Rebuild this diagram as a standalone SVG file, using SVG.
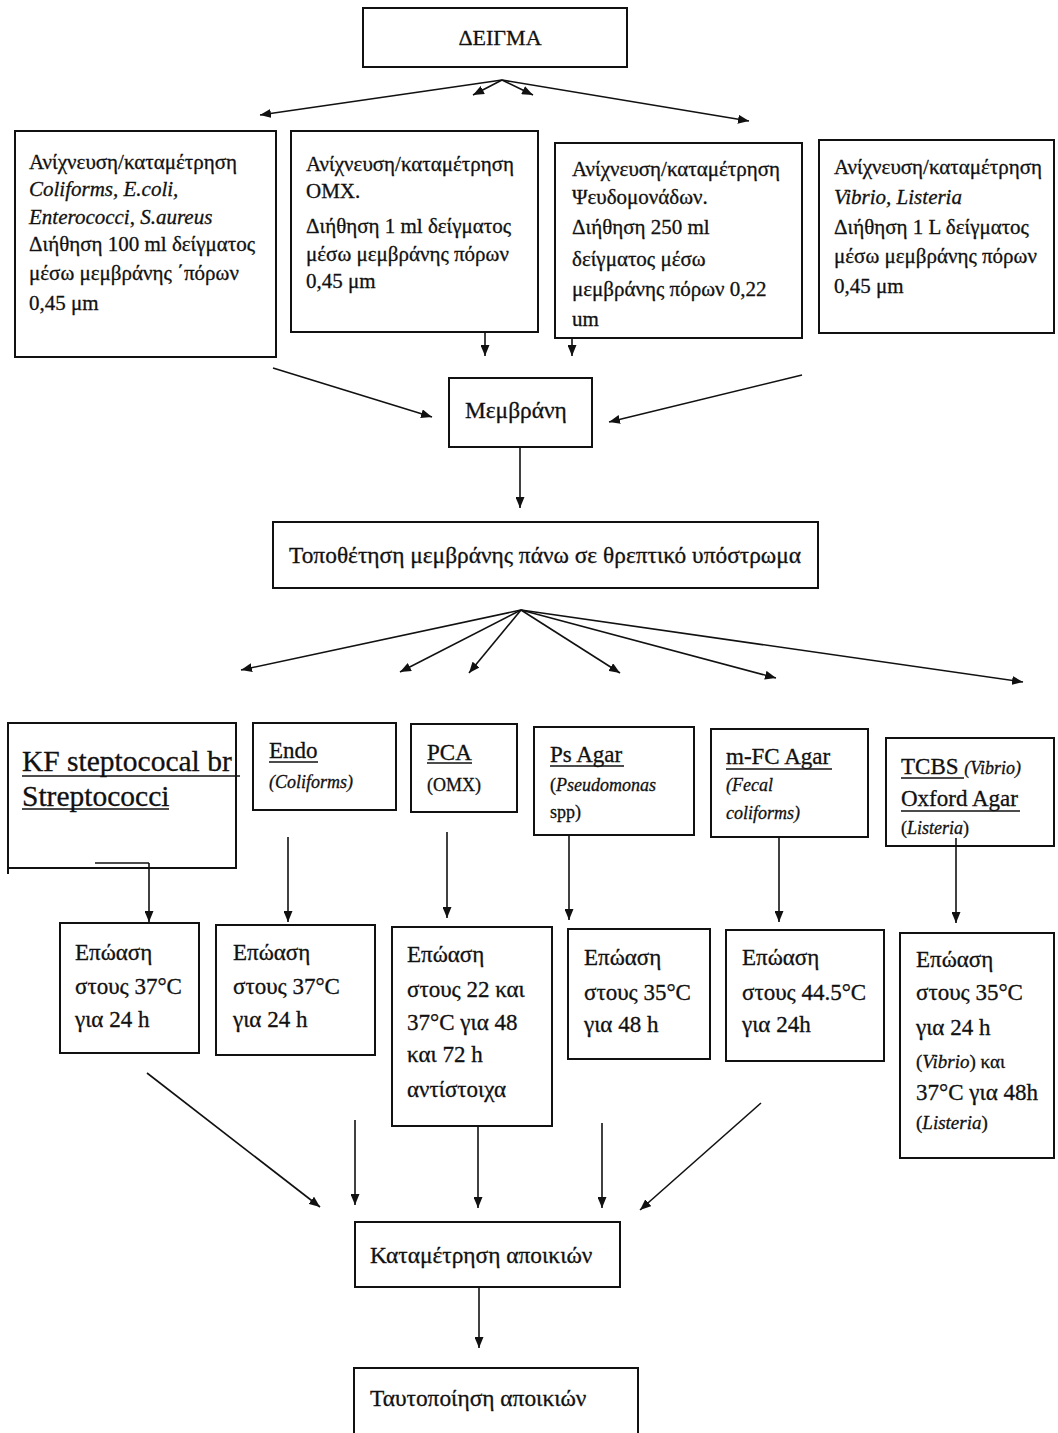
<svg xmlns="http://www.w3.org/2000/svg" width="1058" height="1433" viewBox="0 0 1058 1433">
<defs>
<marker id="ah" markerUnits="userSpaceOnUse" markerWidth="11" markerHeight="9" refX="11" refY="4.5" orient="auto">
<path d="M0,0 L11,4.5 L0,9 z" fill="#111"/>
</marker>
<style>
.box{fill:none;stroke:#111;stroke-width:2}
.t{font-family:"Liberation Serif","Times New Roman",serif;fill:#111;stroke:#111;stroke-width:0.3}
.s21{font-size:21px}
.s22{font-size:22px}
.s23{font-size:23px}
.sb{font-size:23.4px}
.s18{font-size:18px}
.it{font-style:italic}
.ul{stroke:#111;stroke-width:1.5}
.c line{stroke:#111;stroke-width:1.6;marker-end:url(#ah)}
</style>
</defs>
<rect width="1058" height="1433" fill="#fff"/>

<g id="deigma">
<rect class="box" x="363" y="8" width="264" height="59"/>
<text class="t s22" x="500" y="45" text-anchor="middle">ΔΕΙΓΜΑ</text>
</g>

<g id="box1">
<rect class="box" x="15" y="131" width="261" height="226"/>
<text class="t s21" x="29" y="169">Ανίχνευση/καταμέτρηση</text>
<text class="t s21 it" x="29" y="196">Coliforms, E.coli,</text>
<text class="t s21 it" x="29" y="224">Enterococci<tspan font-style="normal">, </tspan>S.aureus</text>
<text class="t s21" x="29" y="251">Διήθηση 100 ml δείγματος</text>
<text class="t s21" x="29" y="280">μέσω μεμβράνης ΄πόρων</text>
<text class="t s21" x="29" y="310">0,45 μm</text>
</g>

<g id="box2">
<rect class="box" x="291" y="131" width="247" height="201"/>
<text class="t s21" x="306" y="171">Ανίχνευση/καταμέτρηση</text>
<text class="t s21" x="306" y="198">ΟΜΧ.</text>
<text class="t s21" x="306" y="233">Διήθηση 1 ml δείγματος</text>
<text class="t s21" x="306" y="261">μέσω μεμβράνης πόρων</text>
<text class="t s21" x="306" y="288">0,45 μm</text>
</g>

<g id="box3">
<rect class="box" x="555" y="143" width="247" height="195"/>
<text class="t s21" x="572" y="176">Ανίχνευση/καταμέτρηση</text>
<text class="t s21" x="572" y="204">Ψευδομονάδων.</text>
<text class="t s21" x="572" y="234">Διήθηση 250 ml</text>
<text class="t s21" x="572" y="266">δείγματος μέσω</text>
<text class="t s21" x="572" y="296">μεμβράνης πόρων 0,22</text>
<text class="t s21" x="572" y="326">um</text>
</g>

<g id="box4">
<rect class="box" x="819" y="140" width="235" height="193"/>
<text class="t s21" x="834" y="174">Ανίχνευση/καταμέτρηση</text>
<text class="t s21 it" x="834" y="204">Vibrio, Listeria</text>
<text class="t s21" x="834" y="234">Διήθηση 1 L δείγματος</text>
<text class="t s21" x="834" y="263">μέσω μεμβράνης πόρων</text>
<text class="t s21" x="834" y="293">0,45 μm</text>
</g>

<g id="membrane">
<rect class="box" x="449" y="378" width="143" height="69"/>
<text class="t sb" x="465" y="418">Μεμβράνη</text>
</g>

<g id="placement">
<rect class="box" x="273" y="522" width="545" height="66"/>
<text class="t sb" x="289" y="563">Τοποθέτηση μεμβράνης πάνω σε θρεπτικό υπόστρωμα</text>
</g>

<g id="kf">
<path class="box" d="M8,874 V723 H236 V868 H8"/>
<line class="ul" x1="95" y1="863" x2="149" y2="863"/>
<text class="t" x="22" y="771" font-size="29.5" fill="#1a1a3a" stroke="#1a1a3a">KF  steptococal br</text>
<line class="ul" x1="22" y1="776" x2="240" y2="776"/>
<text class="t" x="22" y="806" font-size="29.5" fill="#1a1a3a" stroke="#1a1a3a">Streptococci</text>
<line class="ul" x1="22" y1="809" x2="169" y2="809"/>
</g>

<g id="endo">
<rect class="box" x="253" y="723" width="143" height="87"/>
<text class="t s23" x="269" y="758">Endo</text>
<line class="ul" x1="269" y1="762" x2="318" y2="762"/>
<text class="t s18 it" x="269" y="788">(Coliforms)</text>
</g>

<g id="pca">
<rect class="box" x="411" y="724" width="106" height="88"/>
<text class="t s23" x="427" y="760">PCA</text>
<line class="ul" x1="427" y1="763" x2="472" y2="763"/>
<text class="t s18" x="427" y="791">(ΟΜΧ)</text>
</g>

<g id="psagar">
<rect class="box" x="534" y="727" width="160" height="108"/>
<text class="t s23" x="550" y="762">Ps Agar</text>
<line class="ul" x1="550" y1="766" x2="624" y2="766"/>
<text class="t s18" x="550" y="791">(<tspan font-style="italic">Pseudomonas</tspan></text>
<text class="t s18" x="550" y="818">spp)</text>
</g>

<g id="mfc">
<rect class="box" x="711" y="729" width="157" height="108"/>
<text class="t s23" x="726" y="764">m-FC Agar</text>
<line class="ul" x1="726" y1="769" x2="832" y2="769"/>
<text class="t s18 it" x="726" y="791">(Fecal</text>
<text class="t s18 it" x="726" y="819">coliforms)</text>
</g>

<g id="tcbs">
<rect class="box" x="886" y="738" width="168" height="108"/>
<text class="t s23" x="901" y="774">TCBS <tspan class="s18 it">(Vibrio)</tspan></text>
<line class="ul" x1="901" y1="778" x2="964" y2="778"/>
<text class="t s23" x="901" y="806">Oxford Agar</text>
<line class="ul" x1="901" y1="811" x2="1020" y2="811"/>
<text class="t s18" x="901" y="834">(<tspan font-style="italic">Listeria</tspan>)</text>
</g>

<g id="inc1">
<rect class="box" x="60" y="923" width="139" height="130"/>
<text class="t s23" x="75" y="960">Επώαση</text>
<text class="t s23" x="75" y="994">στους 37°C</text>
<text class="t s23" x="75" y="1027">για 24 h</text>
</g>

<g id="inc2">
<rect class="box" x="216" y="925" width="159" height="130"/>
<text class="t s23" x="233" y="960">Επώαση</text>
<text class="t s23" x="233" y="994">στους 37°C</text>
<text class="t s23" x="233" y="1027">για 24 h</text>
</g>

<g id="inc3">
<rect class="box" x="392" y="927" width="160" height="199"/>
<text class="t s23" x="407" y="962">Επώαση</text>
<text class="t s23" x="407" y="997">στους 22 και</text>
<text class="t s23" x="407" y="1030">37°C για 48</text>
<text class="t s23" x="407" y="1062">και 72 h</text>
<text class="t s23" x="407" y="1097">αντίστοιχα</text>
</g>

<g id="inc4">
<rect class="box" x="568" y="929" width="142" height="130"/>
<text class="t s23" x="584" y="965">Επώαση</text>
<text class="t s23" x="584" y="1000">στους 35°C</text>
<text class="t s23" x="584" y="1032">για 48 h</text>
</g>

<g id="inc5">
<rect class="box" x="726" y="930" width="158" height="131"/>
<text class="t s23" x="742" y="965">Επώαση</text>
<text class="t s23" x="742" y="1000">στους 44.5°C</text>
<text class="t s23" x="742" y="1032">για 24h</text>
</g>

<g id="inc6">
<rect class="box" x="900" y="933" width="154" height="225"/>
<text class="t s23" x="916" y="967">Επώαση</text>
<text class="t s23" x="916" y="1000">στους 35°C</text>
<text class="t s23" x="916" y="1035">για 24 h</text>
<text class="t" x="916" y="1068" font-size="19">(<tspan font-style="italic">Vibrio</tspan>) και</text>
<text class="t s23" x="916" y="1100">37°C για 48h</text>
<text class="t" x="916" y="1129" font-size="19">(<tspan font-style="italic">Listeria</tspan>)</text>
</g>

<g id="count">
<rect class="box" x="355" y="1222" width="265" height="65"/>
<text class="t sb" x="370" y="1263">Καταμέτρηση αποικιών</text>
</g>

<g id="identify">
<path class="box" d="M354,1440 V1368 H638 V1440"/>
<text class="t sb" x="370" y="1406">Ταυτοποίηση αποικιών</text>
</g>

<g id="connectors" class="c">
<line x1="502" y1="80" x2="260" y2="115"/>
<line x1="502" y1="80" x2="473" y2="95"/>
<line x1="502" y1="80" x2="533" y2="95"/>
<line x1="502" y1="80" x2="749" y2="121"/>
<line x1="485" y1="332" x2="485" y2="356"/>
<line x1="572" y1="338" x2="572" y2="356"/>
<line x1="273" y1="368" x2="432" y2="417"/>
<line x1="802" y1="375" x2="609" y2="422"/>
<line x1="520" y1="447" x2="520" y2="508"/>
<line x1="521" y1="610" x2="241" y2="670"/>
<line x1="521" y1="610" x2="400" y2="672"/>
<line x1="521" y1="610" x2="469" y2="673"/>
<line x1="521" y1="610" x2="620" y2="673"/>
<line x1="521" y1="610" x2="776" y2="678"/>
<line x1="521" y1="610" x2="1023" y2="682"/>
<line x1="149" y1="863" x2="149" y2="922"/>
<line x1="288" y1="837" x2="288" y2="922"/>
<line x1="447" y1="832" x2="447" y2="918"/>
<line x1="569" y1="835" x2="569" y2="920"/>
<line x1="779" y1="837" x2="779" y2="922"/>
<line x1="956" y1="838" x2="956" y2="923"/>
<line x1="147" y1="1073" x2="320" y2="1207"/>
<line x1="355" y1="1120" x2="355" y2="1205"/>
<line x1="478" y1="1126" x2="478" y2="1208"/>
<line x1="602" y1="1123" x2="602" y2="1208"/>
<line x1="761" y1="1103" x2="640" y2="1210"/>
<line x1="479" y1="1287" x2="479" y2="1348"/>
</g>
</svg>
